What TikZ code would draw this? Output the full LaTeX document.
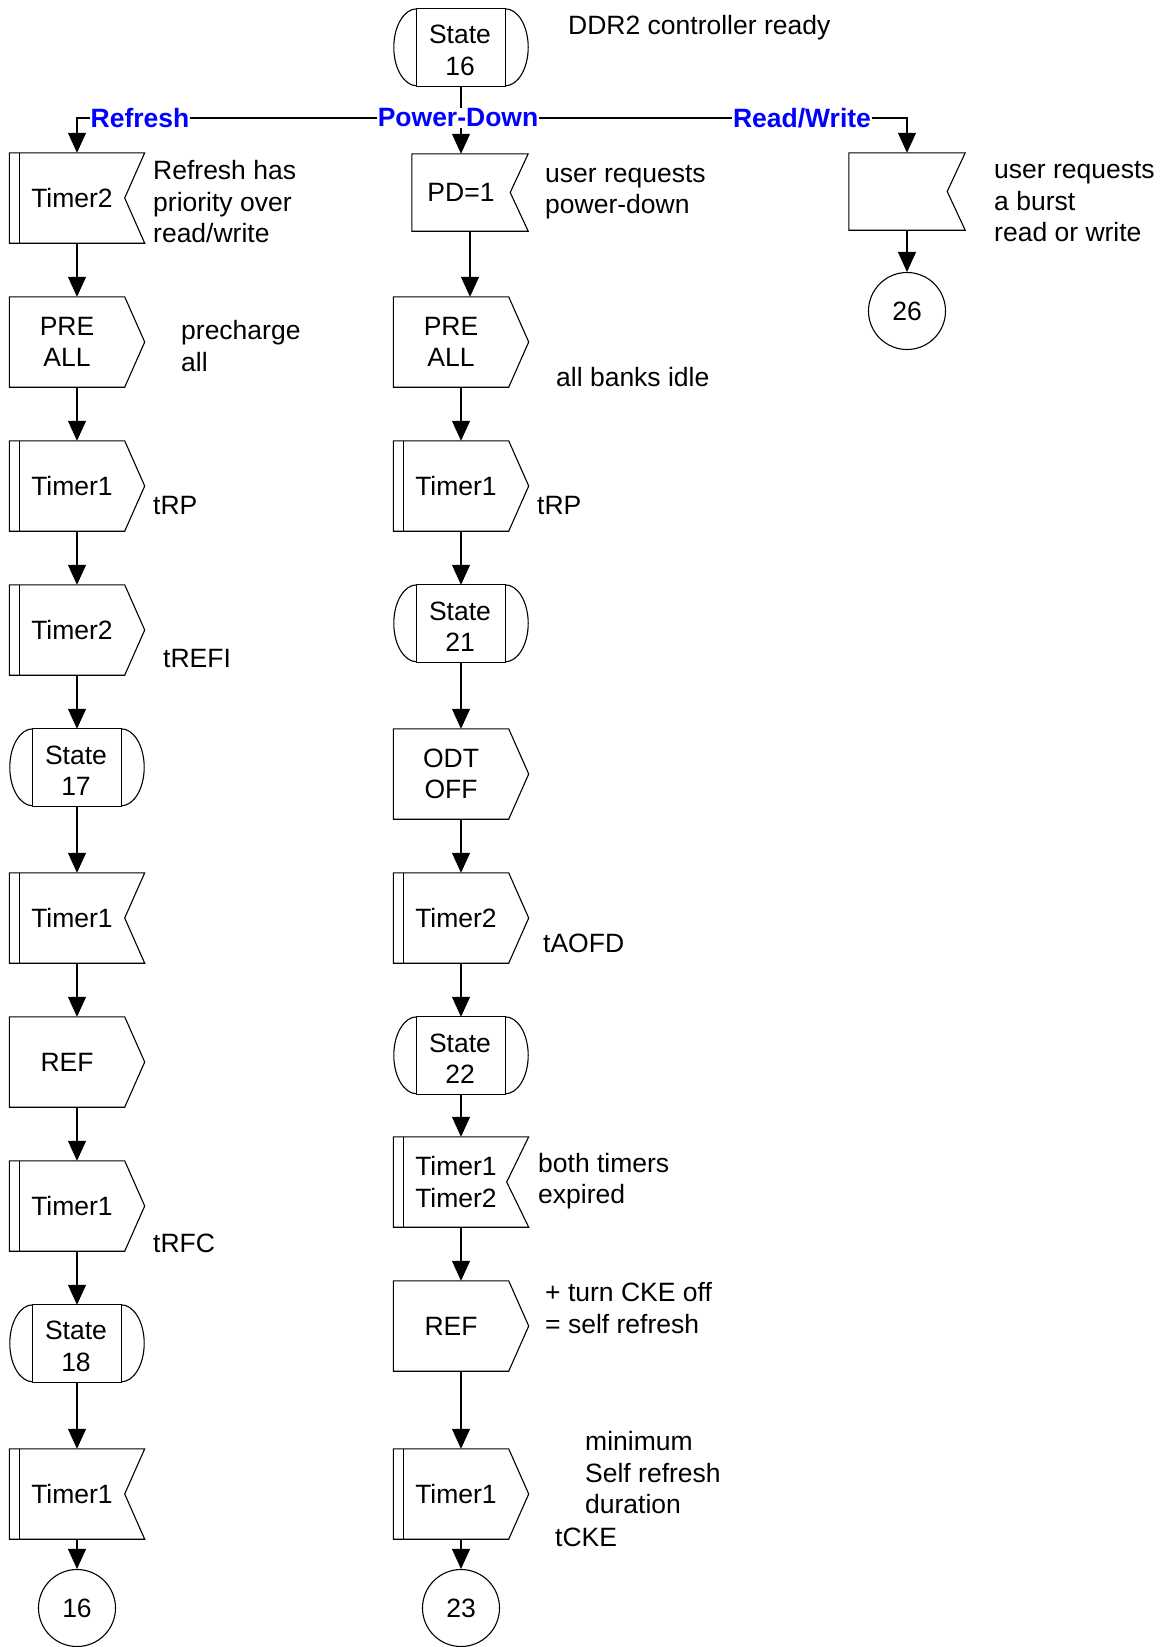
\documentclass[tikz,border=0pt]{standalone}
\usepackage{fontspec}
\setmainfont{Liberation Sans}
\usetikzlibrary{arrows.meta}

\newcommand\txtfont{\fontsize{26.5pt}{31.5pt}\selectfont}
% outline of a "send" symbol: rectangle with a pointed right side
\newcommand\sendout[1]{\draw[shp] (#1.north west) -- ([xshift=-20pt]#1.north east) -- (#1.east) -- ([xshift=-20pt]#1.south east) -- (#1.south west) -- cycle;}
% outline of a "receive" symbol: rectangle with a notched right side
\newcommand\recvout[2]{\draw[shp] (#1.north west) -- (#1.north east) -- ([xshift=-#2pt]#1.east) -- (#1.south east) -- (#1.south west) -- cycle;}
% timer bar on the left side
\newcommand\tbar[1]{\draw[shp] ([xshift=10pt]#1.north west) -- ([xshift=10pt]#1.south west);}
% state symbol: inner rectangle with rounded ends
\newcommand\stateout[1]{%
  \draw[shp] ([xshift=23pt]#1.north west) -- ([xshift=-23pt]#1.north east) -- ([xshift=-23pt]#1.south east) -- ([xshift=23pt]#1.south west) -- cycle;
  \draw[shp] ([xshift=23pt]#1.north west) arc[start angle=90,end angle=270,x radius=23pt,y radius=38.5pt];
  \draw[shp] ([xshift=-23pt]#1.north east) arc[start angle=90,end angle=-90,x radius=23pt,y radius=38.5pt];}

\begin{document}
\begin{tikzpicture}[x=1pt,y=-1pt,
  shp/.style={draw=black, line width=1.1pt, line join=miter},
  box/.style={rectangle, draw=none, inner sep=0pt, minimum width=135pt, minimum height=90pt},
  narrow/.style={rectangle, draw=none, inner sep=0pt, minimum width=116pt, minimum height=77pt},
  boxtext/.style={font=\txtfont, align=center, inner sep=0pt},
  stbox/.style={rectangle, draw=none, inner sep=0pt, minimum width=134pt, minimum height=77pt, label={[boxtext,xshift=-1pt,yshift=-3pt]center:#1}},
  sendbar/.style={box, label={[boxtext,xshift=-5pt]center:#1}},
  sendplain/.style={box, label={[boxtext,xshift=-10pt]center:#1}},
  recvbar/.style={box, label={[boxtext,xshift=-5pt]center:#1}},
  recvnarrow/.style={narrow, label={[boxtext,xshift=-9pt]center:#1}},
  term/.style={circle, draw, line width=1.1pt, minimum size=77pt, inner sep=0pt, font=\txtfont},
  note/.style={font=\txtfont, align=left, anchor=west, inner sep=0pt},
  branch/.style={font=\txtfont\bfseries, text=blue, fill=white, inner sep=1pt},
  conn/.style={line width=1.1pt, -{Triangle[length=20pt,width=18pt]}},
  wire/.style={line width=1.1pt}]
\useasboundingbox (0,0) rectangle (1165,1647);

% refresh column
\node[recvbar=Timer2] (L1) at (77,198) {};
\node[sendplain={PRE\\ALL}] (L2) at (77,342) {};
\node[sendbar=Timer1] (L3) at (77,486) {};
\node[sendbar=Timer2] (L4) at (77,630) {};
\node[stbox={State\\17}] (L5) at (77,767.5) {};
\node[recvbar=Timer1] (L6) at (77,918) {};
\node[sendplain=REF] (L7) at (77,1062) {};
\node[sendbar=Timer1] (L8) at (77,1206) {};
\node[stbox={State\\18}] (L9) at (77,1343.5) {};
\node[recvbar=Timer1] (L10) at (77,1494) {};
\node[term] (c16) at (77,1608) {16};

% power-down column
\node[stbox={State\\16}] (M0) at (461,47.5) {};
\node[recvnarrow={PD=1}] (M1) at (470,192.5) {};
\node[sendplain={PRE\\ALL}] (M2) at (461,342) {};
\node[sendbar=Timer1] (M3) at (461,486) {};
\node[stbox={State\\21}] (M4) at (461,623.5) {};
\node[sendplain={ODT\\OFF}] (M5) at (461,774) {};
\node[sendbar=Timer2] (M6) at (461,918) {};
\node[stbox={State\\22}] (M7) at (461,1055.5) {};
\node[recvbar={Timer1\\Timer2}] (M8) at (461,1182) {};
\node[sendplain=REF] (M9) at (461,1326) {};
\node[sendbar=Timer1] (M10) at (461,1494) {};
\node[term] (c23) at (461,1608) {23};

% read/write column
\node[narrow] (R1) at (907,191.5) {};
\node[term] (c26) at (907,311) {26};

% symbol outlines
\recvout{L1}{20}\tbar{L1}
\sendout{L2}
\sendout{L3}\tbar{L3}
\sendout{L4}\tbar{L4}
\stateout{L5}
\recvout{L6}{20}\tbar{L6}
\sendout{L7}
\sendout{L8}\tbar{L8}
\stateout{L9}
\recvout{L10}{20}\tbar{L10}

\stateout{M0}
\recvout{M1}{18}
\sendout{M2}
\sendout{M3}\tbar{M3}
\stateout{M4}
\sendout{M5}
\sendout{M6}\tbar{M6}
\stateout{M7}
\recvout{M8}{22}\tbar{M8}
\sendout{M9}
\sendout{M10}\tbar{M10}

\recvout{R1}{18}

% flow
\coordinate (jm) at (461,118);
\draw[wire] (M0.south) -- (jm);
\draw[conn] (jm) -| (L1.north);
\draw[conn] (jm) -| (R1.north);
\draw[conn] (jm) -- (jm |- M1.north);
\draw[conn] (M1.south) -- (M1.south |- M2.north);
\draw[conn] (R1.south) -- (c26.north);
\foreach \a/\b in {L1/L2,L2/L3,L3/L4,L4/L5,L5/L6,L6/L7,L7/L8,L8/L9,L9/L10,L10/c16,
                   M2/M3,M3/M4,M4/M5,M5/M6,M6/M7,M7/M8,M8/M9,M9/M10,M10/c23}
  \draw[conn] (\a.south) -- (\b.north);

% branch labels
\node[branch] (bRefresh) at (140,118) {Refresh};
\node[branch] (bPD) at (458,118) {Power-Down};
\node[branch] (bRW) at (802,118) {Read/Write};

% comments
\node[note] (n1) at (568,28) {DDR2 controller ready};
\node[note] (n2) at (153,202) {Refresh has\\priority over\\read/write};
\node[note] (n3) at (545,192) {user requests\\power-down};
\node[note] (n4) at (994,202) {user requests\\a burst\\read or write};
\node[note] (n5) at (181,346) {precharge\\all};
\node[note] (n6) at (556,377) {all banks idle};
\node[note] (n7) at (153,505) {tRP};
\node[note] (n8) at (537,505) {tRP};
\node[note] (n9) at (163,658) {tREFI};
\node[note] (n10) at (543,943) {tAOFD};
\node[note] (n11) at (153,1243) {tRFC};
\node[note] (n12) at (538,1181) {both timers\\expired};
\node[note] (n13) at (545,1308) {+ turn CKE off\\= self refresh};
\node[note] (n14) at (585,1473) {minimum\\Self refresh\\duration};
\node[note] (n15) at (555,1537) {tCKE};
\end{tikzpicture}
\end{document}
